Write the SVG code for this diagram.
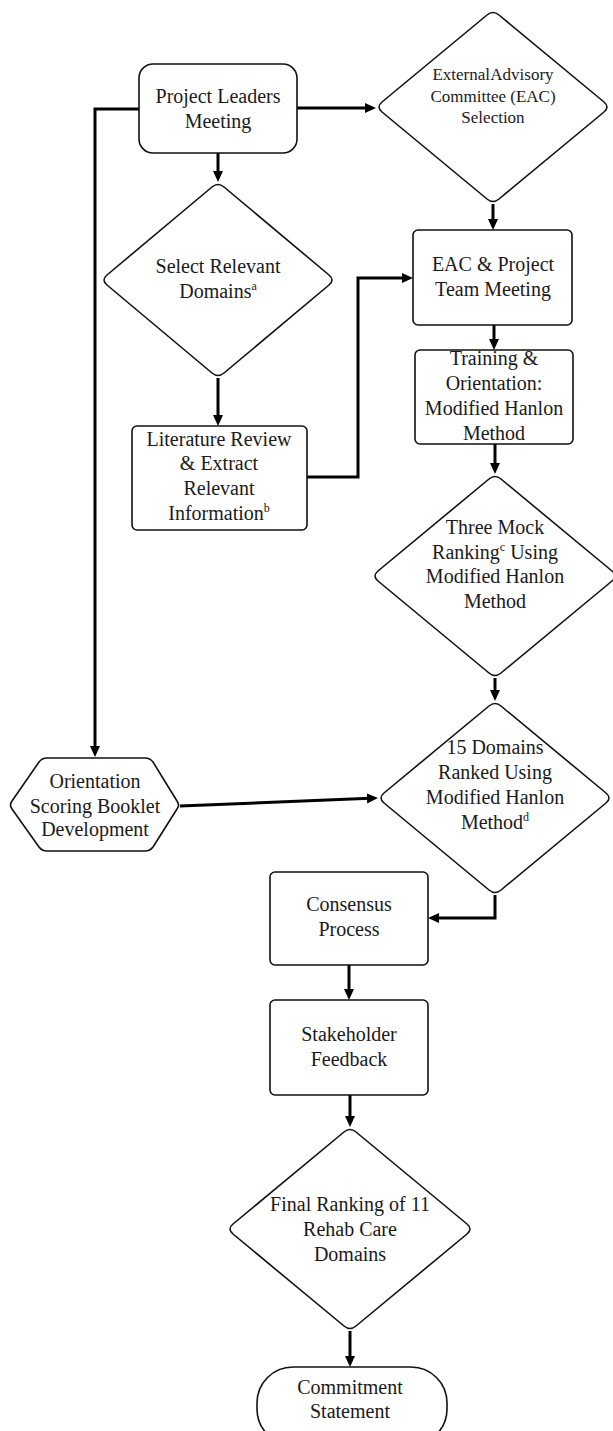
<svg xmlns="http://www.w3.org/2000/svg" width="613" height="1431" viewBox="0 0 613 1431">
<defs>
<style>
.shape{fill:#fff;stroke:#111;stroke-width:1.6;stroke-linejoin:round}
.conn{fill:none;stroke:#000;stroke-width:3;stroke-linejoin:miter}
text{font-family:"Liberation Serif","Times New Roman",serif;font-size:20px;fill:#1a1a1a;text-anchor:middle}
.sm{font-size:17px}
.sup{font-size:12px}
</style>
<marker id="ah" markerUnits="userSpaceOnUse" markerWidth="12" markerHeight="11" refX="3" refY="5" orient="auto" viewBox="0 0 12 10">
<path d="M0,0 L11,5 L0,10 Z" fill="#000"/>
</marker>
</defs>
<rect width="613" height="1431" fill="#fff"/>
<g id="connectors">
<path class="conn" marker-end="url(#ah)" d="M297,108 L368,108"/>
<path class="conn" marker-end="url(#ah)" d="M218,153 L218,174"/>
<path class="conn" marker-end="url(#ah)" d="M139,109 L95,109 L95,749"/>
<path class="conn" marker-end="url(#ah)" d="M493,204 L493,222"/>
<path class="conn" marker-end="url(#ah)" d="M218,378 L218,418"/>
<path class="conn" marker-end="url(#ah)" d="M307,477 L358,477 L358,278 L405,278"/>
<path class="conn" marker-end="url(#ah)" d="M494,325 L494,342"/>
<path class="conn" marker-end="url(#ah)" d="M495,444 L495,466"/>
<path class="conn" marker-end="url(#ah)" d="M495,678 L495,693"/>
<path class="conn" marker-end="url(#ah)" d="M180,806 L370,798.3"/>
<path class="conn" marker-end="url(#ah)" d="M495,895 L495,918 L436,918"/>
<path class="conn" marker-end="url(#ah)" d="M349,965 L349,992"/>
<path class="conn" marker-end="url(#ah)" d="M350,1095 L350,1119"/>
<path class="conn" marker-end="url(#ah)" d="M350,1331 L350,1359"/>
</g>
<g id="project-leaders">
<rect class="shape" x="139" y="64" width="158" height="89" rx="14"/>
<text x="218" y="103">Project Leaders</text>
<text x="218" y="128">Meeting</text>
</g>
<g id="eac-selection">
<path class="shape" d="M499,15 L604,102 Q610,107 604,112 L499,199 Q493,204 487,199 L382,112 Q376,107 382,102 L487,15 Q493,10 499,15 Z"/>
<text class="sm" x="493" y="80" word-spacing="-3">External Advisory</text>
<text class="sm" x="493" y="102">Committee (EAC)</text>
<text class="sm" x="493" y="123">Selection</text>
</g>
<g id="select-domains">
<path class="shape" d="M224,187 L329,275 Q335,280 329,285 L224,373 Q218,378 212,373 L107,285 Q101,280 107,275 L212,187 Q218,182 224,187 Z"/>
<text x="218" y="273">Select Relevant</text>
<text x="218" y="298">Domains<tspan class="sup" dy="-8">a</tspan></text>
</g>
<g id="eac-team-meeting">
<rect class="shape" x="413" y="230" width="159" height="95" rx="5"/>
<text x="493" y="271">EAC &amp; Project</text>
<text x="493" y="296">Team Meeting</text>
</g>
<g id="training">
<rect class="shape" x="415" y="350" width="158" height="94" rx="5"/>
<text x="494" y="365">Training &amp;</text>
<text x="494" y="390">Orientation:</text>
<text x="494" y="415">Modified Hanlon</text>
<text x="494" y="440">Method</text>
</g>
<g id="literature-review">
<rect class="shape" x="132" y="426" width="175" height="104" rx="5"/>
<text x="219" y="446">Literature Review</text>
<text x="219" y="470">&amp; Extract</text>
<text x="219" y="495">Relevant</text>
<text x="219" y="520">Information<tspan class="sup" dy="-8">b</tspan></text>
</g>
<g id="mock-ranking">
<path class="shape" d="M501,479 L612,571 Q618,576 612,581 L501,673 Q495,678 489,673 L378,581 Q372,576 378,571 L489,479 Q495,474 501,479 Z"/>
<text x="495" y="534">Three Mock</text>
<text x="495" y="559">Ranking<tspan class="sup" dy="-8">c</tspan><tspan dy="8"> Using</tspan></text>
<text x="495" y="583">Modified Hanlon</text>
<text x="495" y="608">Method</text>
</g>
<g id="orientation-booklet">
<path class="shape" d="M12,801 L39,762 Q42,758 47,758 L145,758 Q150,758 153,762 L177,801 Q180,805 177,809 L153,847 Q150,851 145,851 L47,851 Q42,851 39,847 L12,809 Q9,805 12,801 Z"/>
<text x="95" y="788">Orientation</text>
<text x="95" y="813">Scoring Booklet</text>
<text x="95" y="836">Development</text>
</g>
<g id="domains-ranked">
<path class="shape" d="M501,706 L606,793 Q612,798 606,803 L501,890 Q495,895 489,890 L384,803 Q378,798 384,793 L489,706 Q495,701 501,706 Z"/>
<text x="495" y="754">15 Domains</text>
<text x="495" y="779">Ranked Using</text>
<text x="495" y="804">Modified Hanlon</text>
<text x="495" y="829">Method<tspan class="sup" dy="-8">d</tspan></text>
</g>
<g id="consensus">
<rect class="shape" x="270" y="872" width="158" height="93" rx="5"/>
<text x="349" y="911">Consensus</text>
<text x="349" y="936">Process</text>
</g>
<g id="stakeholder">
<rect class="shape" x="270" y="1000" width="158" height="95" rx="5"/>
<text x="349" y="1041">Stakeholder</text>
<text x="349" y="1066">Feedback</text>
</g>
<g id="final-ranking">
<path class="shape" d="M356,1132 L467,1224 Q473,1229 467,1234 L356,1326 Q350,1331 344,1326 L233,1234 Q227,1229 233,1224 L344,1132 Q350,1127 356,1132 Z"/>
<text x="350" y="1211">Final Ranking of 11</text>
<text x="350" y="1236">Rehab Care</text>
<text x="350" y="1261">Domains</text>
</g>
<g id="commitment">
<rect class="shape" x="257" y="1367" width="190" height="78" rx="36"/>
<text x="350" y="1394">Commitment</text>
<text x="350" y="1418">Statement</text>
</g>
</svg>
